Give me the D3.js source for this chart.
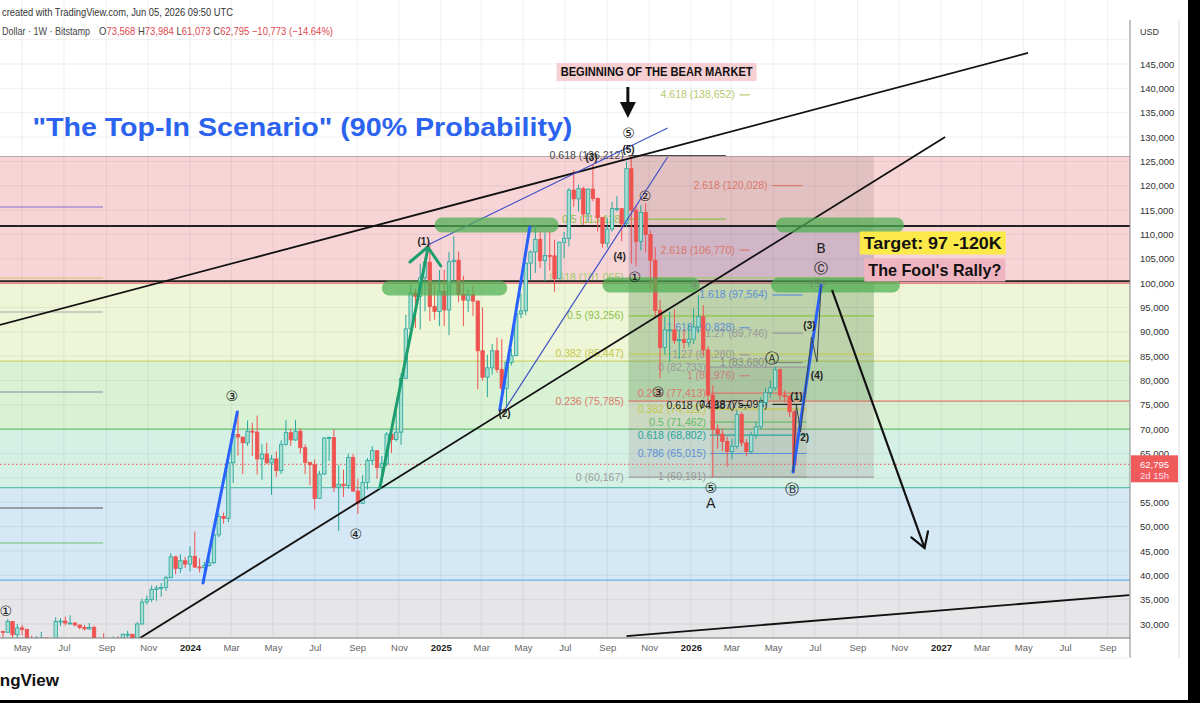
<!DOCTYPE html>
<html>
<head>
<meta charset="utf-8">
<script src="https://cdn.jsdelivr.net/npm/d3@7"></script>
<style>
  body { margin: 0; background: #fff; }
  svg { display: block; font-family: "Liberation Sans", Arial, sans-serif; }
</style>
</head>
<body>
<svg id="chart" width="1200" height="703"></svg>
<script>
// ── Data ─────────────────────────────────────────────
// BTC/USD weekly candles (Bitstamp), first week starts Mon 2023-04-03, values in USD thousands
const firstWeek = '2023-04-03';
const firstOpen = 28.45;
const weeklyClose = [
  28.3, 30.5, 27.8, 29.2, 28.9, 26.9, 26.7, 27.1, 27.1, 25.8, 26.3, 30.5, 30.6, 30.2, 30.2, 29.8, 29.3, 29.0, 29.3, 26.1,
  26.0, 25.8, 25.8, 26.5, 26.3, 27.9, 27.9, 26.9, 30.0, 34.5, 35.0, 37.1, 37.4, 37.5, 39.5, 43.8, 41.4, 43.0, 42.3,
  43.9, 41.7, 41.6, 42.0, 42.6, 48.3, 52.1, 51.7, 63.1, 68.9, 68.4, 67.2, 69.6, 69.4, 63.9, 64.9, 63.1, 63.9, 61.5, 66.9,
  69.3, 67.8, 69.6, 66.2, 63.2, 62.7, 55.8, 60.8, 68.2, 68.3, 58.1, 58.7, 58.4, 64.2, 57.3, 54.8, 59.1, 63.6, 65.6, 62.1,
  62.9, 69.0, 67.9, 69.4, 80.4, 90.6, 98.0, 97.3, 101.1, 104.3, 95.2, 94.2, 98.3,
  94.5, 104.4, 104.7, 97.7, 96.5, 97.6, 96.3, 86.1, 80.7, 82.6, 86.1, 82.3, 78.4, 83.7, 85.1, 93.7, 94.3, 104.1, 106.4, 109.0,
  104.6, 105.7, 105.6, 100.9, 108.4, 109.2, 119.1, 117.3, 119.4, 114.2, 119.3, 117.4, 113.5, 108.2, 111.1, 115.3, 115.3, 112.2, 123.5, 115.0,
  108.6, 114.5, 110.0, 104.7, 94.4, 86.8, 90.4, 90.4, 88.2, 88.4, 87.8, 88.5,
  91.0, 93.1, 86.3, 77.0, 70.0, 69.0, 67.5, 65.4, 66.5, 73.0, 67.2, 65.4, 68.8, 70.5, 75.5, 77.5, 78.5, 82.2, 77.0, 76.7,
  73.568, 62.795
];
const weeklyHigh = [
  28.6, 31.0, 30.5, 30.0, 29.8, 29.0, 27.6, 27.5, 28.4, 27.3, 26.8, 31.4, 31.2, 31.5, 31.8, 30.4, 29.8, 29.8, 30.2, 29.7,
  26.8, 28.1, 26.4, 27.4, 27.5, 28.0, 28.6, 27.9, 30.4, 35.2, 35.9, 37.9, 37.9, 38.4, 39.9, 44.5, 44.0, 44.3, 43.8,
  45.9, 49.0, 43.5, 42.8, 43.8, 48.6, 52.8, 52.9, 64.0, 69.9, 73.8, 68.2, 71.8, 71.3, 72.8, 66.9, 67.2, 64.7, 65.5, 67.7,
  71.9, 70.0, 71.9, 70.2, 66.9, 62.9, 63.8, 61.4, 68.4, 68.5, 70.0, 62.7, 61.7, 65.0, 64.9, 59.8, 60.6, 64.1, 66.5, 65.6,
  64.5, 69.4, 69.5, 73.6, 81.5, 93.5, 99.6, 98.9, 104.0, 105.2, 108.3, 99.9, 102.7,
  102.7, 106.4, 109.6, 106.5, 101.5, 98.8, 99.5, 96.5, 95.0, 85.3, 87.5, 88.8, 88.5, 84.0, 86.5, 95.8, 97.9, 104.3, 106.7, 111.9,
  110.7, 110.4, 110.6, 108.9, 108.5, 110.5, 119.5, 123.2, 120.2, 119.8, 119.4, 124.5, 117.6, 113.5, 113.4, 116.7, 117.9, 113.4, 125.0, 126.2,
  116.0, 116.0, 116.4, 110.8, 107.4, 96.6, 93.1, 94.1, 94.6, 90.3, 90.5, 91.5,
  94.8, 97.6, 95.5, 87.0, 79.0, 71.0, 70.0, 68.5, 68.0, 74.0, 73.5, 68.0, 69.5, 71.5, 76.5, 78.5, 80.0, 82.8, 82.5, 78.0,
  77.0, 73.984
];
const weeklyLow = [
  27.2, 28.2, 27.1, 26.9, 27.7, 25.8, 26.1, 25.9, 26.6, 25.4, 24.8, 26.3, 29.6, 29.7, 30.0, 29.5, 28.9, 28.7, 28.8, 25.2,
  25.8, 25.4, 24.9, 25.1, 26.0, 26.0, 27.2, 26.6, 26.9, 29.9, 34.0, 34.5, 34.8, 35.6, 36.8, 39.5, 40.2, 40.5, 41.5,
  40.8, 41.5, 40.6, 38.5, 41.8, 42.3, 47.8, 50.6, 50.9, 59.0, 64.6, 60.8, 66.6, 64.5, 60.7, 59.6, 62.8, 56.5, 60.2, 60.8,
  66.6, 66.6, 67.6, 65.0, 60.8, 58.5, 53.5, 56.5, 60.6, 63.5, 57.1, 49.1, 56.1, 57.8, 57.2, 52.6, 54.6, 57.6, 62.7, 59.8,
  58.9, 62.4, 65.1, 67.5, 66.8, 80.3, 89.4, 90.8, 90.5, 94.2, 92.2, 92.5, 91.2,
  91.2, 89.3, 100.1, 96.1, 91.2, 94.1, 93.3, 78.2, 80.0, 76.6, 81.2, 81.6, 77.2, 74.4, 83.1, 85.1, 92.8, 93.4, 100.7, 102.1,
  103.1, 100.4, 102.6, 98.2, 100.9, 105.1, 107.5, 115.7, 114.7, 112.0, 112.6, 116.8, 110.6, 107.3, 107.3, 110.6, 114.7, 108.6, 111.5, 104.0,
  103.5, 106.7, 106.3, 98.9, 93.0, 80.5, 85.3, 83.8, 87.5, 84.4, 86.5, 86.9,
  87.5, 90.0, 85.0, 75.5, 60.191, 66.0, 65.5, 62.3, 63.8, 66.0, 66.5, 64.5, 65.0, 68.0, 70.0, 75.0, 76.5, 78.0, 76.0, 75.5,
  72.5, 61.073
];
const lastPrice = 62795;

// 60,000 sits under the last-price tag, so it is not printed
const priceTicks = [145000, 140000, 135000, 130000, 125000, 120000, 115000, 110000, 105000, 100000, 95000, 90000,
  85000, 80000, 75000, 70000, 65000, 55000, 50000, 45000, 40000, 35000, 30000];
const gridPrices = [150000, 60000].concat(priceTicks);

// full-width fib bands (price edges, top → down)
const bandLevels = [126000, 100000, 84000, 70000, 58000, 39000];
// horizontal black levels
const blackLevels = [111730, 100400];
// short levels on the far left
const leftLevels = [115630, 101050, 94070, 77640, 53820, 46630];
const leftLevelSpan = ['2023-03-20', '2023-08-27'];

// trend lines: [[date, price], [date, price]]
const channelLines = [
  [['2023-03-29', 91400], ['2027-05-08', 147260]],
  [['2023-10-20', 27120], ['2027-01-07', 130010]],
  [['2025-09-29', 27530], ['2027-10-03', 35950]]
];
const wedgeLines = [
  [['2024-12-13', 107830], ['2025-11-28', 131860]],
  [['2025-04-04', 73950], ['2025-11-28', 125900]]
];
const impulseBlue = [
  [['2024-01-20', 38420], ['2024-03-10', 73540]],
  [['2025-03-28', 73950], ['2025-05-11', 111530]],
  [['2026-05-30', 61210], ['2026-07-10', 99620]]
];
const impulseGreen = [['2024-10-04', 57930], ['2024-12-13', 107010]];
const greenChevron = [['2024-11-17', 104340], ['2024-12-13', 107420], ['2025-01-01', 103520]];
const projectedWaves = [['2026-05-30', 61210], ['2026-06-04', 74970], ['2026-06-10', 69430],
  ['2026-06-26', 88940], ['2026-07-04', 83800], ['2026-07-10', 99620]];
const bearArrow = [['2026-07-26', 98590], ['2026-12-08', 45610]];

// green highlight bars: [startDate, endDate, price]
const greenBars = [
  ['2024-10-07', '2025-04-08', 99000],
  ['2024-12-23', '2025-06-22', 111940],
  ['2025-08-25', '2026-01-14', 99620],
  ['2026-05-05', '2026-11-08', 111940],
  ['2026-04-28', '2026-11-02', 99620]
];

// shaded tool boxes: [startDate, endDate, topPrice, bottomPrice]
const toolBoxes = [
  ['2025-10-02', '2026-09-25', 126100, 60167],
  ['2025-10-02', '2026-09-25', 111730, 100030],
  ['2025-10-02', '2026-09-25', 100030, 75785],
  ['2026-01-29', '2026-06-19', 82733, 60191]
];

// fib retracement from the top (labels left of the box)
const fibTop = [['0.618 (126,212)', 126212], ['0.5 (113,128)', 113128], ['0.618 (101,065)', 101065],
  ['0.5 (93,256)', 93256], ['0.382 (85,447)', 85447], ['0.236 (75,785)', 75785], ['0 (60,167)', 60167]];
// retracement of the A–B leg
const fibAB = [['0 (82,733)', 82733], ['0.236 (77,413)', 77413], ['0.382 (74,122)', 74122], ['0.5 (71,462)', 71462],
  ['0.618 (68,802)', 68802], ['0.786 (65,015)', 65015], ['1 (60,191)', 60191]];
// trend-based extensions
const fibExtA = [['4.618 (138,652)', 138652], ['2.618 (106,770)', 106770], ['1.618 (90,828)', 90828],
  ['1.27 (85,280)', 85280], ['1 (80,976)', 80976], ['0.618 (74,887)', 74887]];
const fibExtB = [['2.618 (120,028)', 120028], ['1.618 (97,564)', 97564], ['1.27 (89,746)', 89746],
  ['1 (83,680)', 83680], ['0.618 (75,098)', 75098]];

// wave count labels: [date, price, text]
const circledLabels = [
  ['2023-04-07', 32670, '①'], ['2024-03-02', 76820, '③'], ['2024-08-30', 48480, '④'],
  ['2025-10-02', 130830, '⑤'], ['2025-10-26', 117890, '②'], ['2025-10-11', 101260, '①'],
  ['2025-11-14', 77640, '③'], ['2026-01-30', 57930, '⑤'], ['2026-01-30', 54850, 'A'],
  ['2026-04-30', 84620, 'Ⓐ'], ['2026-05-28', 57720, 'Ⓑ'], ['2026-07-10', 107210, 'B'], ['2026-07-10', 103110, 'Ⓒ']
];
const hiddenLabels = [['2026-01-07', 99620, '④'], ['2026-07-05', 100030, '(5)']];
const subLabels = [
  ['2024-12-07', 108650, '(1)'], ['2025-04-04', 73330, '(2)'], ['2025-09-19', 105570, '(4)'],
  ['2025-08-09', 125700, '(3)'], ['2025-10-02', 127540, '(5)'], ['2026-06-04', 76620, '(1)'],
  ['2026-06-16', 68400, '2)'], ['2026-06-23', 91400, '(3)'], ['2026-07-04', 80930, '(4)']
];

// ── Scales ───────────────────────────────────────────
const W = 1200, H = 703, PR = 1130, PB = 638;
const parse = d3.utcParse('%Y-%m-%d');
const x = d3.scaleUtc().domain([parse('2024-01-01'), parse('2027-01-01')]).range([190, 941]);
const y = d3.scaleLinear().domain([30000, 145000]).range([624, 64]);
const px = d => x(parse(d));
const line = d3.line().x(p => px(p[0])).y(p => y(p[1]));

const candles = weeklyClose.map((c, i) => {
  const o = i === 0 ? firstOpen : weeklyClose[i - 1];   // weekly open = prior close
  return {
    date: d3.utcDay.offset(parse(firstWeek), 7 * i),
    o: o * 1000, c: c * 1000,
    h: Math.max(weeklyHigh[i], o, c) * 1000,
    l: Math.min(weeklyLow[i], o, c) * 1000
  };
});

const svg = d3.select('#chart');
svg.append('rect').attr('width', W).attr('height', H).attr('fill', '#fff');
svg.append('defs').append('clipPath').attr('id', 'plotClip')
  .append('rect').attr('width', PR).attr('height', PB);
const plot = svg.append('g').attr('clip-path', 'url(#plotClip)');

// ── Background bands ─────────────────────────────────
const bandFill = ['#f7d5d7', '#eef6d7', '#daf2d4', '#d5f1e6', '#d5e8f5', '#e6e6e9'];
const bandEdge = ['#b9a9aa', '#e06666', '#c9d46a', '#6cc070', '#62bfae', '#6aaee6'];
bandLevels.forEach((lv, i) => {
  const y0 = y(lv), y1 = i + 1 < bandLevels.length ? y(bandLevels[i + 1]) : PB;
  plot.append('rect').attr('x', 0).attr('y', y0).attr('width', PR).attr('height', y1 - y0).attr('fill', bandFill[i]);
});

// grid
const timeTicks = d3.utcMonth.every(2).range(parse('2023-05-01'), parse('2027-10-01'));
plot.append('g').selectAll('line').data(timeTicks).join('line')
  .attr('x1', d => x(d)).attr('x2', d => x(d)).attr('y1', 0).attr('y2', PB)
  .attr('stroke', 'rgba(42,46,57,0.07)');
plot.append('g').selectAll('line').data(gridPrices).join('line')
  .attr('x1', 0).attr('x2', PR).attr('y1', d => y(d)).attr('y2', d => y(d))
  .attr('stroke', 'rgba(42,46,57,0.07)');

bandLevels.forEach((lv, i) => {
  plot.append('line').attr('x1', 0).attr('x2', PR).attr('y1', y(lv)).attr('y2', y(lv))
    .attr('stroke', bandEdge[i]).attr('stroke-width', 1.2);
});

const leftColors = ['#8a6fd0', '#cfc46a', '#a5a5a5', '#8d87a8', '#555', '#6cc070'];
plot.append('g').selectAll('line').data(leftLevels).join('line')
  .attr('x1', px(leftLevelSpan[0])).attr('x2', px(leftLevelSpan[1]))
  .attr('y1', d => y(d)).attr('y2', d => y(d))
  .attr('stroke', (d, i) => leftColors[i]).attr('stroke-width', 1.2);

// ── Tool boxes ───────────────────────────────────────
const boxFill = ['rgba(125,95,95,0.17)', 'rgba(90,110,230,0.13)', 'rgba(76,175,80,0.2)', 'rgba(120,100,80,0.1)'];
plot.append('g').selectAll('rect').data(toolBoxes).join('rect')
  .attr('x', d => px(d[0])).attr('width', d => px(d[1]) - px(d[0]))
  .attr('y', d => y(d[2])).attr('height', d => y(d[3]) - y(d[2]))
  .attr('fill', (d, i) => boxFill[i]);

// ── Fib levels ───────────────────────────────────────
function fibGroup(levels, colors, labelEnd, lineFrom, lineTo, lineToOverride) {
  const g = plot.append('g');
  levels.forEach((lv, i) => {
    const to = (lineToOverride && lineToOverride[i]) || lineTo;
    g.append('line').attr('x1', px(lineFrom)).attr('x2', px(to))
      .attr('y1', y(lv[1])).attr('y2', y(lv[1]))
      .attr('stroke', colors[i]).attr('stroke-width', 1.2);
    g.append('text').attr('x', px(labelEnd)).attr('y', y(lv[1]) + 3.5)
      .attr('text-anchor', 'end').attr('font-size', 10.5).attr('fill', colors[i]).text(lv[0]);
  });
}
fibGroup(fibTop, ['#4a4a4a', '#8bc34a', '#9ccc65', '#8bc34a', '#c6c84a', '#d9786a', '#9a9a9a'],
  '2025-09-25', '2025-10-02', '2026-09-25', ['2026-02-21', '2026-02-21', null, null, null, '2027-10-03', null]);
fibGroup(fibAB, ['#999', '#d9786a', '#c6c84a', '#66bb6a', '#26a69a', '#5c8fd6', '#999'],
  '2026-01-23', '2026-01-29', '2026-06-19');
fibGroup(fibExtA, ['#b5c96b', '#d9786a', '#5c8fd6', '#999', '#c98080', '#222'],
  '2026-03-06', '2026-03-13', '2026-03-28');
fibGroup(fibExtB, ['#d9786a', '#5c8fd6', '#999', '#888', '#222'],
  '2026-04-23', '2026-04-30', '2026-06-13');

// black horizontal levels
plot.append('g').selectAll('line').data(blackLevels).join('line')
  .attr('x1', 0).attr('x2', PR).attr('y1', d => y(d)).attr('y2', d => y(d))
  .attr('stroke', '#222').attr('stroke-width', 1.8);

// last price line
plot.append('line').attr('x1', 0).attr('x2', PR).attr('y1', y(lastPrice)).attr('y2', y(lastPrice))
  .attr('stroke', '#ef5350').attr('stroke-width', 1).attr('stroke-dasharray', '1.5,2.5');

// ── Candles ──────────────────────────────────────────
const UP = '#26a69a', UP_FILL = '#a8ddd2', DOWN = '#ef5350';
const cw = 3.4;
const cg = plot.append('g');
cg.selectAll('line').data(candles).join('line')
  .attr('x1', d => x(d.date)).attr('x2', d => x(d.date))
  .attr('y1', d => y(d.h)).attr('y2', d => y(d.l))
  .attr('stroke', d => d.c >= d.o ? UP : DOWN).attr('stroke-width', 1);
cg.selectAll('rect').data(candles).join('rect')
  .attr('x', d => x(d.date) - cw / 2).attr('width', cw)
  .attr('y', d => y(Math.max(d.o, d.c)))
  .attr('height', d => Math.max(1, Math.abs(y(d.o) - y(d.c))))
  .attr('fill', d => d.c >= d.o ? UP_FILL : DOWN)
  .attr('stroke', d => d.c >= d.o ? UP : DOWN).attr('stroke-width', 0.8);

// ── Trend lines ──────────────────────────────────────
plot.append('g').selectAll('path').data(channelLines).join('path')
  .attr('d', line).attr('fill', 'none').attr('stroke', '#111').attr('stroke-width', 1.8);
plot.append('g').selectAll('path').data(wedgeLines).join('path')
  .attr('d', line).attr('fill', 'none').attr('stroke', '#3f51c5').attr('stroke-width', 1.2);

// green highlight bars
const BAR_H = 15;
plot.append('g').selectAll('rect').data(greenBars).join('rect')
  .attr('x', d => px(d[0])).attr('width', d => px(d[1]) - px(d[0]))
  .attr('y', d => y(d[2]) - BAR_H / 2).attr('height', BAR_H).attr('rx', 7.5)
  .attr('fill', '#4caf50').attr('opacity', 0.72);

// impulse legs
plot.append('g').selectAll('path').data(impulseBlue).join('path')
  .attr('d', line).attr('fill', 'none').attr('stroke', '#2962ff').attr('stroke-width', 3)
  .attr('stroke-linecap', 'round');
plot.append('path').attr('d', line(projectedWaves)).attr('fill', 'none')
  .attr('stroke', '#37474f').attr('stroke-width', 1);
plot.append('path').attr('d', line(impulseGreen)).attr('fill', 'none')
  .attr('stroke', '#1e9e6e').attr('stroke-width', 3).attr('stroke-linecap', 'round');
plot.append('path').attr('d', line(greenChevron)).attr('fill', 'none')
  .attr('stroke', '#1e9e6e').attr('stroke-width', 3).attr('stroke-linecap', 'round')
  .attr('stroke-linejoin', 'round');

// bear projection arrow
{
  const [a, b] = bearArrow;
  const x0 = px(a[0]), y0 = y(a[1]), x1 = px(b[0]), y1 = y(b[1]);
  const ang = Math.atan2(y1 - y0, x1 - x0), L = 17;
  plot.append('path').attr('d', line(bearArrow)).attr('stroke', '#111').attr('stroke-width', 2.2).attr('fill', 'none');
  plot.append('path')
    .attr('d', `M${x1 + L * Math.cos(ang + Math.PI - 0.55)},${y1 + L * Math.sin(ang + Math.PI - 0.55)}L${x1},${y1}L${x1 + L * Math.cos(ang + Math.PI + 0.55)},${y1 + L * Math.sin(ang + Math.PI + 0.55)}`)
    .attr('stroke', '#111').attr('stroke-width', 2.2).attr('fill', 'none').attr('stroke-linecap', 'round');
}

// ── Wave labels ──────────────────────────────────────
const circFont = '"DejaVu Sans", "Noto Sans", sans-serif';
plot.append('g').selectAll('text').data(circledLabels).join('text')
  .attr('x', d => px(d[0])).attr('y', d => y(d[1])).attr('dy', '0.35em')
  .attr('text-anchor', 'middle').attr('font-family', circFont)
  .attr('font-size', 14).attr('fill', '#222').text(d => d[2]);
plot.append('g').selectAll('text').data(hiddenLabels).join('text')
  .attr('x', d => px(d[0])).attr('y', d => y(d[1])).attr('dy', '0.35em')
  .attr('text-anchor', 'middle').attr('font-family', circFont).attr('font-size', 11)
  .attr('fill', '#777').attr('opacity', 0.6).text(d => d[2]);
plot.append('g').selectAll('text').data(subLabels).join('text')
  .attr('x', d => px(d[0])).attr('y', d => y(d[1])).attr('dy', '0.35em')
  .attr('text-anchor', 'middle').attr('font-weight', 'bold').attr('font-size', 10)
  .attr('fill', '#222').text(d => d[2]);

// ── Text annotations ─────────────────────────────────
plot.append('text').attr('x', px('2023-05-16')).attr('y', y(132060)).attr('dy', '0.35em')
  .attr('font-size', 26).attr('font-weight', 'bold').attr('fill', '#2b63ee')
  .attr('textLength', 540).attr('lengthAdjust', 'spacingAndGlyphs')
  .text('"The Top-In Scenario" (90% Probability)');

function tagText(date, price, txt, bg, w, h, size) {
  const cx = px(date), cy = y(price);
  plot.append('rect').attr('x', cx - w / 2).attr('y', cy - h / 2).attr('width', w).attr('height', h).attr('fill', bg);
  plot.append('text').attr('x', cx).attr('y', cy).attr('dy', '0.36em').attr('text-anchor', 'middle')
    .attr('font-size', size).attr('font-weight', 'bold').attr('fill', '#111')
    .attr('textLength', w - 8).attr('lengthAdjust', 'spacingAndGlyphs').text(txt);
}
tagText('2025-11-12', 143360, 'BEGINNING OF THE BEAR MARKET', '#f6cfd3', 200, 18, 12);
tagText('2026-12-20', 108240, 'Target: 97 -120K', '#fbe94a', 146, 23, 17);
tagText('2026-12-23', 102700, "The Fool's Rally?", '#f0b4c0', 141, 23, 17);

// "beginning" arrow
{
  const ax = px('2025-10-01'), yTop = y(140280), yTip = y(133910);
  plot.append('line').attr('x1', ax).attr('x2', ax).attr('y1', yTop).attr('y2', yTip - 12)
    .attr('stroke', '#111').attr('stroke-width', 3);
  plot.append('path').attr('d', `M${ax - 8},${yTip - 16}L${ax + 8},${yTip - 16}L${ax},${yTip}Z`).attr('fill', '#111');
}

// ── Axes ─────────────────────────────────────────────
const yAxis = d3.axisRight(y).tickValues(priceTicks).tickSize(0).tickPadding(10).tickFormat(d3.format(','));
const gy = svg.append('g').attr('transform', `translate(${PR},0)`).call(yAxis);
gy.select('.domain').remove();
gy.selectAll('text').attr('font-size', 9.5).attr('fill', '#333').attr('font-family', '"Liberation Sans", Arial, sans-serif');

const monthFmt = d3.utcFormat('%b');
const xAxis = d3.axisBottom(x).tickValues(timeTicks.filter(d => x(d) < PR - 10)).tickSize(0).tickPadding(6)
  .tickFormat(d => d.getUTCMonth() === 0 ? d.getUTCFullYear() : monthFmt(d));
const gx = svg.append('g').attr('transform', `translate(0,${PB})`).call(xAxis);
gx.select('.domain').remove();
gx.selectAll('text').attr('font-size', 9.5).attr('font-family', '"Liberation Sans", Arial, sans-serif')
  .attr('fill', d => d.getUTCMonth() === 0 ? '#222' : '#666')
  .attr('font-weight', d => d.getUTCMonth() === 0 ? 'bold' : 'normal');

svg.append('line').attr('x1', 0).attr('x2', PR).attr('y1', PB).attr('y2', PB).attr('stroke', '#777').attr('stroke-width', 1);
svg.append('line').attr('x1', PR).attr('x2', PR).attr('y1', 20).attr('y2', 658).attr('stroke', '#888').attr('stroke-width', 1);
svg.append('line').attr('x1', 0).attr('x2', PR).attr('y1', 658).attr('y2', 658).attr('stroke', '#eee');
svg.append('line').attr('x1', 1179).attr('x2', 1179).attr('y1', 20).attr('y2', 658).attr('stroke', '#ddd');
svg.append('text').attr('x', 1140).attr('y', 35).attr('font-size', 9).attr('fill', '#333').text('USD');

// last price tag
{
  const ty = y(lastPrice);
  svg.append('rect').attr('x', PR + 1).attr('y', ty - 9).attr('width', 47).attr('height', 27).attr('fill', '#ef5b5b');
  svg.append('text').attr('x', 1140).attr('y', ty + 3.5).attr('font-size', 9.5).attr('fill', '#fff').text('62,795');
  svg.append('text').attr('x', 1140).attr('y', ty + 14.5).attr('font-size', 9.5).attr('fill', '#fde').text('2d 15h');
}

// ── Header / footer ──────────────────────────────────
svg.append('text').attr('x', 2).attr('y', 16).attr('font-size', 10.5).attr('fill', '#333')
  .attr('textLength', 231).attr('lengthAdjust', 'spacingAndGlyphs')
  .text('created with TradingView.com, Jun 05, 2026 09:50 UTC');
svg.append('text').attr('x', 2).attr('y', 35).attr('font-size', 10.5).attr('fill', '#444')
  .attr('textLength', 88).attr('lengthAdjust', 'spacingAndGlyphs').text('Dollar · 1W · Bitstamp');
const hdr = svg.append('text').attr('x', 99).attr('y', 35).attr('font-size', 10.5)
  .attr('textLength', 234).attr('lengthAdjust', 'spacingAndGlyphs');
[['O', '#444'], ['73,568', '#e0474f'], [' H', '#444'], ['73,984', '#e0474f'],
 [' L', '#444'], ['61,073', '#e0474f'], [' C', '#444'], ['62,795', '#e0474f'], [' −10,773 (−14.64%)', '#e0474f']]
  .forEach(([t, c]) => hdr.append('tspan').attr('fill', c).text(t));

svg.append('text').attr('x', 59).attr('y', 686).attr('text-anchor', 'end').attr('font-size', 17)
  .attr('font-weight', 'bold').attr('fill', '#111').text('TradingView');

// dark frame edge
svg.append('rect').attr('x', 1188).attr('y', 0).attr('width', 12).attr('height', H).attr('fill', '#000');
svg.append('rect').attr('x', 0).attr('y', 700).attr('width', W).attr('height', 3).attr('fill', '#000');
</script>
</body>
</html>
